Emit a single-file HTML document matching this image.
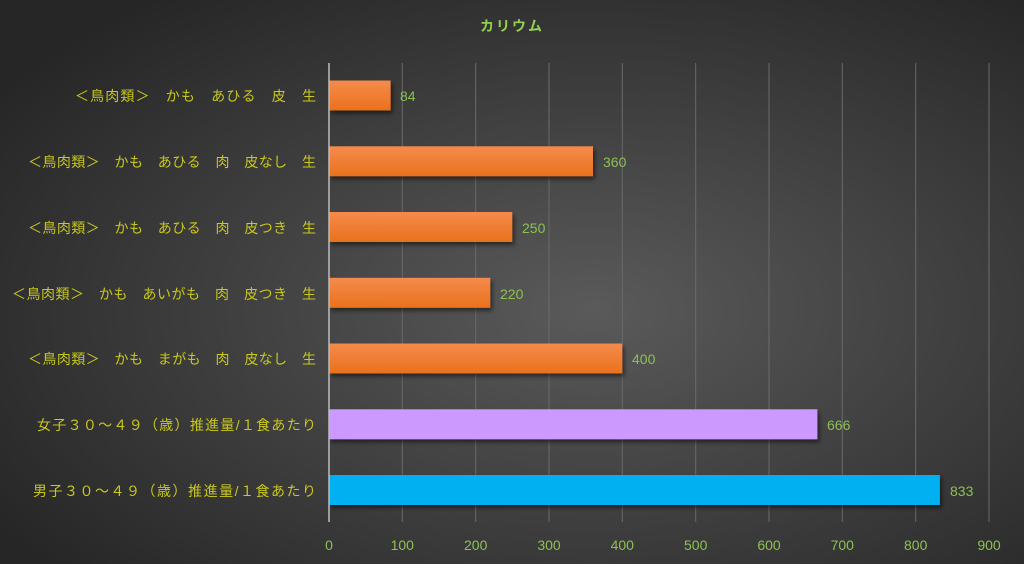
<!DOCTYPE html>
<html><head><meta charset="utf-8"><style>
html,body{margin:0;padding:0;width:1024px;height:564px;overflow:hidden;background:#333}
</style></head><body>
<svg width="1024" height="564" xmlns="http://www.w3.org/2000/svg" font-family="Liberation Sans, Noto Sans CJK JP, sans-serif">
<defs>
<radialGradient id="bg" cx="58%" cy="55%" r="70%">
<stop offset="0" stop-color="#5a5a5a"/><stop offset="1" stop-color="#262626"/>
</radialGradient>
<linearGradient id="or" x1="0" y1="0" x2="0" y2="1">
<stop offset="0" stop-color="#f58b4c"/><stop offset="1" stop-color="#e9711c"/>
</linearGradient>
<filter id="sh" x="-5%" y="-20%" width="110%" height="160%"><feDropShadow dx="2" dy="3" stdDeviation="2" flood-color="#000" flood-opacity="0.5"/></filter>
</defs>
<rect width="1024" height="564" fill="url(#bg)"/>
<text x="512" y="31" text-anchor="middle" font-size="14" font-weight="bold" fill="#92d050" letter-spacing="2">カリウム</text>
<g stroke="#6a6a6a" stroke-width="1">
<line x1="402.3" y1="63" x2="402.3" y2="522"/><line x1="475.7" y1="63" x2="475.7" y2="522"/>
<line x1="549" y1="63" x2="549" y2="522"/><line x1="622.3" y1="63" x2="622.3" y2="522"/>
<line x1="695.7" y1="63" x2="695.7" y2="522"/><line x1="769" y1="63" x2="769" y2="522"/>
<line x1="842.3" y1="63" x2="842.3" y2="522"/><line x1="915.7" y1="63" x2="915.7" y2="522"/>
<line x1="989" y1="63" x2="989" y2="522"/>
</g>
<g filter="url(#sh)">
<rect x="329" y="80.5" width="61.6" height="30" fill="url(#or)"/>
<rect x="329" y="146.3" width="264" height="30" fill="url(#or)"/>
<rect x="329" y="212" width="183.3" height="30" fill="url(#or)"/>
<rect x="329" y="277.8" width="161.3" height="30" fill="url(#or)"/>
<rect x="329" y="343.5" width="293.3" height="30" fill="url(#or)"/>
<rect x="329" y="409.3" width="488.4" height="30" fill="#cc99ff"/>
<rect x="329" y="475" width="610.9" height="30" fill="#00b0f0"/>
</g>
<line x1="329" y1="63" x2="329" y2="522" stroke="#bdbdbd" stroke-width="1.5"/>
<g font-size="14" fill="#8cc152">
<text x="400" y="101">84</text><text x="603" y="167">360</text><text x="522" y="233">250</text>
<text x="500" y="299">220</text><text x="632" y="364">400</text><text x="827" y="430">666</text><text x="950" y="496">833</text>
</g>
<g font-size="14" fill="#8cc152" text-anchor="middle">
<text x="329" y="550">0</text><text x="402.3" y="550">100</text><text x="475.7" y="550">200</text>
<text x="549" y="550">300</text><text x="622.3" y="550">400</text><text x="695.7" y="550">500</text>
<text x="769" y="550">600</text><text x="842.3" y="550">700</text><text x="915.7" y="550">800</text><text x="989" y="550">900</text>
</g>
<g font-size="14" fill="#c8c81e">
<text x="75" y="101" textLength="241" lengthAdjust="spacing" xml:space="preserve">＜鳥肉類＞　かも　あひる　皮　生</text>
<text x="28" y="167" textLength="288" lengthAdjust="spacing" xml:space="preserve">＜鳥肉類＞　かも　あひる　肉　皮なし　生</text>
<text x="28" y="233" textLength="288" lengthAdjust="spacing" xml:space="preserve">＜鳥肉類＞　かも　あひる　肉　皮つき　生</text>
<text x="12" y="299" textLength="304" lengthAdjust="spacing" xml:space="preserve">＜鳥肉類＞　かも　あいがも　肉　皮つき　生</text>
<text x="28" y="364" textLength="288" lengthAdjust="spacing" xml:space="preserve">＜鳥肉類＞　かも　まがも　肉　皮なし　生</text>
<text x="37" y="430" textLength="279" lengthAdjust="spacing">女子３０～４９（歳）推進量/１食あたり</text>
<text x="33" y="496" textLength="283" lengthAdjust="spacing">男子３０～４９（歳）推進量/１食あたり</text>
</g>
</svg>
</body></html>
